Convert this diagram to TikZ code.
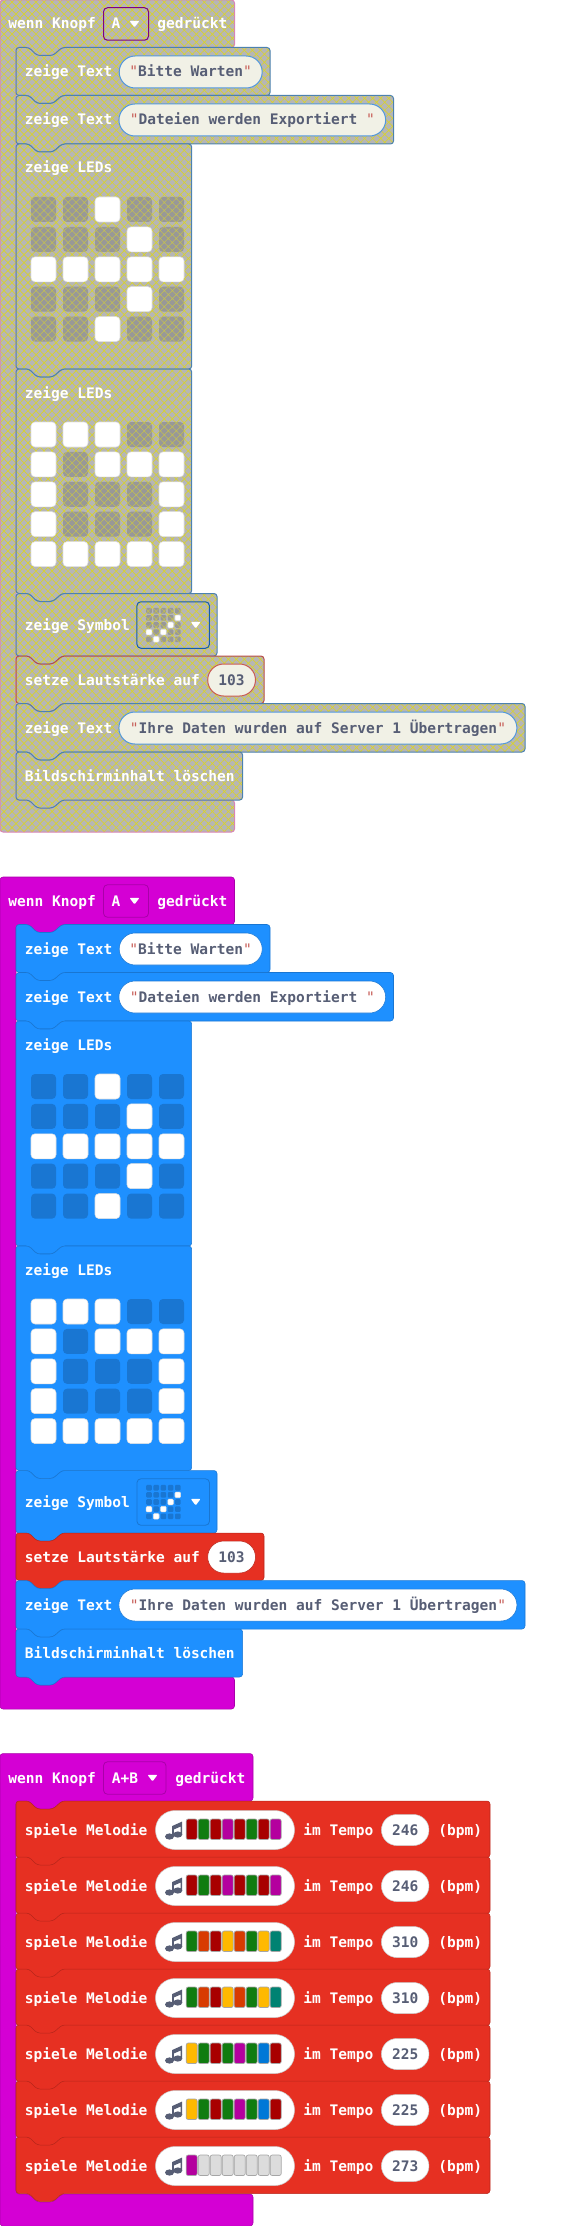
\documentclass[tikz,border=0pt]{standalone}
\usepackage{fontspec}
\usepackage{tikz}
\usetikzlibrary{patterns.meta,shapes.misc}
\newfontfamily\blockfont{DejaVu Sans Mono}

\definecolor{knopfmagenta}{HTML}{D400D4}
\definecolor{knopfline}{HTML}{A900A9}
\definecolor{zeigeblue}{HTML}{1E90FF}
\definecolor{zeigeline}{HTML}{1976D2}
\definecolor{tonred}{HTML}{E63022}
\definecolor{tonline}{HTML}{B8261B}
\definecolor{pilltext}{HTML}{575E75}
\definecolor{quotered}{HTML}{C8605A}
\definecolor{hatchgrey}{HTML}{B6B6B6}
\definecolor{hatchyellow}{HTML}{D8D22E}
\definecolor{ledgrey}{HTML}{989898}
\definecolor{pillcream}{HTML}{F1F1E6}
\definecolor{toneR}{HTML}{A80000}
\definecolor{toneG}{HTML}{107C10}
\definecolor{toneM}{HTML}{B4009E}
\definecolor{toneO}{HTML}{D83B01}
\definecolor{toneY}{HTML}{FFB900}
\definecolor{toneT}{HTML}{008272}
\definecolor{toneB}{HTML}{0078D7}
\definecolor{toneN}{HTML}{DCDCDC}

\tikzset{
  blocktext/.style={font=\blockfont\bfseries\fontsize{10.9pt}{12pt}\selectfont,text height=9.5pt,text depth=2pt,inner sep=0pt},
  lbl/.style={blocktext,text=white,anchor=west},
  pill/.style={blocktext,rounded rectangle,draw=zeigeline,line width=0.4pt,fill=white,text=pilltext,minimum height=32*0.75pt},
  redpill/.style={pill,draw=tonline},
  knopfhat/.style={fill=knopfmagenta,draw=knopfline,line width=0.4pt},
  zeigeblock/.style={fill=zeigeblue,draw=zeigeline,line width=0.4pt},
  tonblock/.style={fill=tonred,draw=tonline,line width=0.4pt},
  hatdrop/.style={draw=knopfline,line width=0.6pt,fill=knopfmagenta,rounded corners=3pt,minimum height=32.5*0.75pt,inner sep=0pt},
  symdrop/.style={draw=zeigeline,line width=0.6pt,fill=zeigeblue,rounded corners=3pt,minimum width=72.5*0.75pt,minimum height=46.5*0.75pt,inner sep=0pt},
  led0/.style={fill=zeigeline},
  led1/.style={fill=white,draw=white!88!black,line width=0.4pt},
  tonbar/.style={draw=black!35,line width=0.5pt,rounded corners=1.5pt},
  hatch mix/.style={preaction={fill=hatchgrey},pattern={Hatch[angle=45,distance=4.25pt,line width=0.5pt]},pattern color=hatchyellow},
  schraffiert/.style={
    knopfhat/.style={hatch mix,draw=black!25!magenta!55,line width=0.75pt},
    zeigeblock/.style={hatch mix,draw=blue!45!cyan!55!black!70,line width=0.75pt},
    tonblock/.style={hatch mix,draw=red!60!black!70,line width=0.75pt},
    pill/.style={blocktext,rounded rectangle,draw=zeigeline!75,line width=0.75pt,fill=pillcream,text=pilltext,minimum height=32*0.75pt},
    redpill/.style={pill,draw=tonline!75},
    hatdrop/.style={hatch mix,draw=knopfline!75!black,line width=0.75pt,rounded corners=3pt,minimum height=32.5*0.75pt,inner sep=0pt},
    symdrop/.style={hatch mix,draw=zeigeline!80!black,line width=0.75pt,rounded corners=3pt,minimum width=72.5*0.75pt,minimum height=46.5*0.75pt,inner sep=0pt},
    led0/.style={fill=ledgrey,postaction={pattern={Hatch[angle=45,distance=4.25pt,line width=0.4pt]},pattern color=hatchyellow!70!ledgrey}},
  },
}

\newcommand{\quo}{{\mdseries\color{quotered}"}}

% style, top, right, bottom
\newcommand{\blockshape}[4]{
\draw [#1,rounded corners=2.25pt] (16,#2) -- (29,#2) -- (37,#2+8) -- (53,#2+8) -- (62,#2) -- (#3,#2) -- (#3,#4) -- (62,#4) -- (53,#4+8) -- (37,#4+8) -- (29,#4) -- (16,#4) -- cycle ;
}
% top, head bottom, right, inner bottom, bottom
\newcommand{\hatshape}[5]{
\draw [knopfhat,rounded corners=2.25pt] (0,#1) -- (#3,#1) -- (#3,#2) -- (62,#2) -- (53,#2+8) -- (37,#2+8) -- (29,#2) -- (16,#2) -- (16,#4) -- (29,#4) -- (37,#4+8) -- (53,#4+8) -- (62,#4) -- (#3,#4) -- (#3,#5) -- (0,#5) -- cycle ;
}
% dropdown arrow
\newcommand{\ddarrow}[2]{
\fill [white,rounded corners=0.8pt] (#1-5,#2-3.2) -- (#1+5,#2-3.2) -- (#1,#2+3.4) -- cycle ;
}
% x0, y0, pitch x, pitch y, half size, corner, rows
\newcommand{\ledgrid}[7]{
\foreach \ledrow [count=\i from 0] in {#7} {
  \foreach \b [count=\j from 0] in \ledrow {
    \path [led\b,rounded corners=#6] ({#1+\j*#3-#5},{#2+\i*#4-#5}) rectangle ({#1+\j*#3+#5},{#2+\i*#4+#5}) ;
  }
}
}
% the block stack of the first two groups
\newcommand{\knopfstack}[1]{
%Shape: Hat
\hatshape{0}{47.5}{234.5}{800}{832}
%Shape: Blocks
\blockshape{zeigeblock}{47.5}{270}{95.5}
\blockshape{zeigeblock}{95.5}{393.5}{144}
\blockshape{zeigeblock}{144}{191.7}{369}
\blockshape{zeigeblock}{369}{191.7}{593.5}
\blockshape{zeigeblock}{593.5}{217}{656}
\blockshape{tonblock}{656}{264}{703.5}
\blockshape{zeigeblock}{703.5}{525}{752}
\blockshape{zeigeblock}{752}{242.6}{800}

% Text Node
\node [lbl] (#1wenn) at (8,24) {wenn Knopf};
\node [hatdrop,minimum width=45*0.75pt] (#1drop) at (126,24) {};
\node [lbl,anchor=center] (#1knopfa) at (116,24) {A};
\ddarrow{134.5}{24}
\node [lbl] (#1gedrueckt) at (157,24) {gedrückt};
% Text Node
\node [lbl] (#1zeigea) at (24.5,72) {zeige Text};
\node [pill,minimum width=143*0.75pt] (#1bitte) at (190.7,72) {\quo Bitte Warten\quo};
% Text Node
\node [lbl] (#1zeigeb) at (24.5,120) {zeige Text};
\node [pill,minimum width=266.7*0.75pt] (#1dateien) at (252.3,120) {\quo Dateien werden Exportiert \quo};
% Text Node
\node [lbl] (#1ledsa) at (24.5,168) {zeige LEDs};
\ledgrid{43.5}{209.5}{32}{29.9}{12.5}{3pt}{{0,0,1,0,0},{0,0,0,1,0},{1,1,1,1,1},{0,0,0,1,0},{0,0,1,0,0}}
% Text Node
\node [lbl] (#1ledsb) at (24.5,393.3) {zeige LEDs};
\ledgrid{43.5}{434.5}{32}{29.9}{12.5}{3pt}{{1,1,1,0,0},{1,0,1,1,1},{1,0,0,0,1},{1,0,0,0,1},{1,1,1,1,1}}
% Text Node
\node [lbl] (#1symbol) at (24.5,625) {zeige Symbol};
\node [symdrop] (#1symdrop) at (173.2,625) {};
\ledgrid{149}{610.7}{7.2}{7.15}{2.8}{0.8pt}{{0,0,0,0,0},{0,0,0,0,1},{0,0,0,1,0},{1,0,1,0,0},{0,1,0,0,0}}
\ddarrow{195.7}{625}
% Text Node
\node [lbl] (#1setze) at (24.5,680) {setze Lautstärke auf};
\node [redpill,minimum width=47.8*0.75pt] (#1laut) at (231.6,680) {103};
% Text Node
\node [lbl] (#1zeigec) at (24.5,728) {zeige Text};
\node [pill,minimum width=398*0.75pt] (#1ihre) at (317.9,728) {\quo Ihre Daten wurden auf Server 1 Übertragen\quo};
% Text Node
\node [lbl] (#1loeschen) at (24.5,776) {Bildschirminhalt löschen};
}
% name, top, bars, tempo
\newcommand{\melodie}[4]{
\blockshape{tonblock}{#2}{490}{#2+56.5}
\node [lbl] (#1spiele) at (24.5,#2+29) {spiele Melodie};
\node [redpill,draw=black!20,minimum width=139*0.75pt,minimum height=39*0.75pt] (#1pill) at (225,#2+29) {};
% note
\fill [pilltext] (169.5,#2+35.5) ellipse [x radius=4.5, y radius=3.1];
\fill [pilltext] (177.8,#2+33.5) ellipse [x radius=4.5, y radius=3.1];
\fill [pilltext] (172.2,#2+35.5) -- (172.2,#2+25) -- (182.2,#2+20.5) -- (182.2,#2+33.5) -- (180.6,#2+33.5) -- (180.6,#2+25.5) -- (173.8,#2+28.5) -- (173.8,#2+35.5) -- cycle ;
\foreach \c [count=\i from 0] in {#3} {
  \draw [tonbar,fill=tone\c] ({186.2+\i*12},#2+18) rectangle ({197.2+\i*12},#2+38.5) ;
}
\node [lbl] (#1im) at (303,#2+29) {im Tempo};
\node [redpill,draw=black!20,minimum width=47.5*0.75pt,minimum height=31*0.75pt] (#1tempo) at (405.2,#2+29) {#4};
\node [lbl] (#1bpm) at (438,#2+29) {(bpm)};
}

\begin{document}
\begin{tikzpicture}[x=0.75pt,y=0.75pt,yscale=-1,xscale=1]
\useasboundingbox (0,0) rectangle (577,2226);

\begin{scope}[schraffiert]
\knopfstack{s}
\end{scope}

\begin{scope}[shift={(0,877)}]
\knopfstack{b}
\end{scope}

%Shape: Hat of the third group
\hatshape{1753.5}{1801}{253}{2194}{2226}
% Text Node
\node [lbl] (cwenn) at (8,1778) {wenn Knopf};
\node [hatdrop,minimum width=62.5*0.75pt] (cdrop) at (134.75,1778) {};
\node [lbl,anchor=center] (cknopf) at (125,1778) {A+B};
\ddarrow{152.5}{1778}
\node [lbl] (cgedrueckt) at (175,1778) {gedrückt};

\melodie{ma}{1801}{R,G,R,M,R,G,R,M}{246}
\melodie{mb}{1857}{R,G,R,M,R,G,R,M}{246}
\melodie{mc}{1913}{G,O,R,Y,O,G,Y,T}{310}
\melodie{md}{1969}{G,O,R,Y,O,G,Y,T}{310}
\melodie{me}{2025}{Y,G,R,G,M,G,B,R}{225}
\melodie{mf}{2081}{Y,G,R,G,M,G,B,R}{225}
\melodie{mg}{2137}{M,N,N,N,N,N,N,N}{273}

\end{tikzpicture}
\end{document}
